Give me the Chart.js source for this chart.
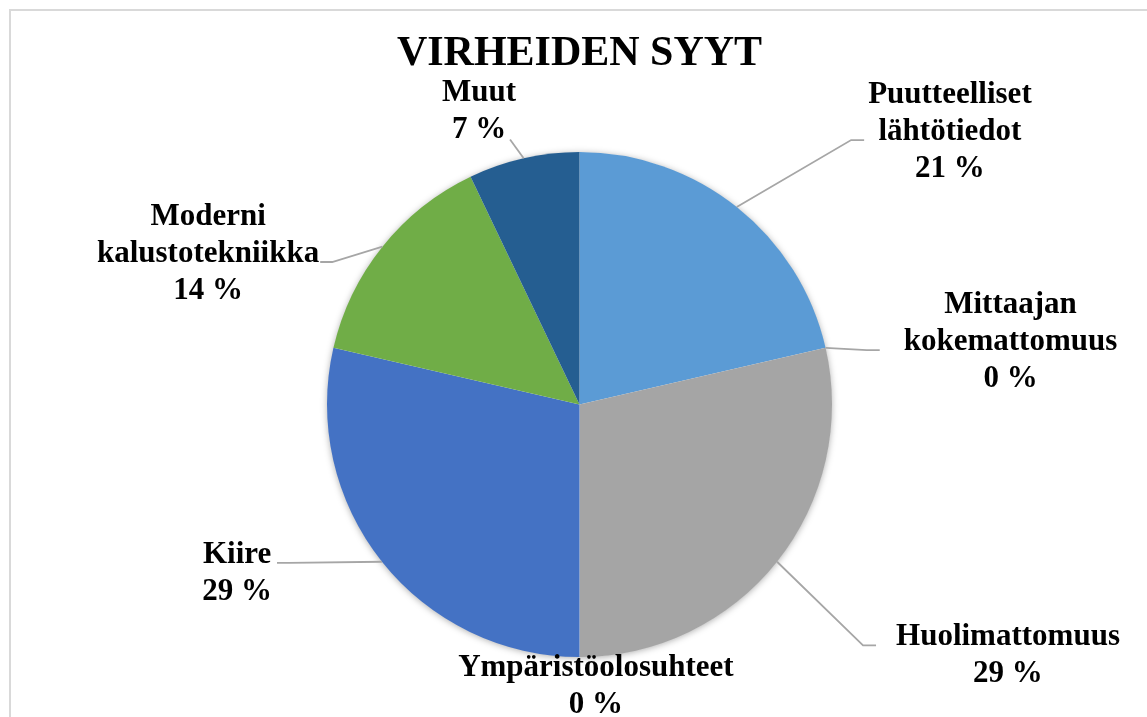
<!DOCTYPE html>
<html>
<head>
<meta charset="utf-8">
<script src="https://cdn.jsdelivr.net/npm/chart.js@4"></script>
<style>
  html, body { margin: 0; padding: 0; background: #fff; overflow: hidden; }
  #wrap { position: relative; width: 1147px; height: 717px; }
  #frame { position: absolute; left: 9px; top: 9px; width: 1200px; height: 800px; border: 2px solid #d9d9d9; }
  canvas { position: absolute; left: 0; top: 0; }
</style>
</head>
<body>
<div id="wrap">
  <div id="frame"></div>
  <canvas id="pieChart" width="1147" height="717"></canvas>
</div>
<script>
const categories = ['Puutteelliset lähtötiedot', 'Mittaajan kokemattomuus', 'Huolimattomuus',
    'Ympäristöolosuhteet', 'Kiire', 'Moderni kalustotekniikka', 'Muut'];
const shares = [21.4, 0, 28.6, 0, 28.6, 14.3, 7.1];
const sliceColors = ['#5B9BD5', '#ED7D31', '#A5A5A5', '#FFC000', '#4472C4', '#70AD47', '#255E91'];

// label block centres, in pie radii from the pie centre; side = where the leader line attaches
const labelLayout = [
    { dx: 1.467, dy: -1.087, side: 'left', gap: 4 },
    { dx: 1.707, dy: -0.255, side: 'left', gap: 24 },
    { dx: 1.697, dy: 0.988, side: 'left', gap: 20 },
    { dx: 0.065, dy: 1.109, side: 'none', gap: 0 },
    { dx: -1.356, dy: 0.661, side: 'right', gap: 5 },
    { dx: -1.471, dy: -0.604, side: 'right', gap: 1 },
    { dx: -0.398, dy: -1.170, side: 'bottom', gap: 2 }
];

const labelFont = 'bold 31px "Liberation Serif", "Times New Roman", serif';
const lineH = 37;

const pieLabels = {
    id: 'pieLabels',
    beforeDatasetsDraw(chart) {
        let arc = chart.getDatasetMeta(0).data[0];
        if (!arc) return;
        let p = arc.getProps(['x', 'y', 'outerRadius'], true);
        let ctx = chart.ctx;
        ctx.save();
        ctx.shadowColor = 'rgba(0,0,0,0.35)';
        ctx.shadowBlur = 7;
        ctx.shadowOffsetY = 1;
        ctx.fillStyle = '#ffffff';
        ctx.beginPath();
        ctx.arc(p.x, p.y, p.outerRadius - 0.5, 0, Math.PI * 2);
        ctx.fill();
        ctx.restore();
    },
    afterDatasetsDraw(chart) {
        let ctx = chart.ctx;
        let meta = chart.getDatasetMeta(0);
        let total = shares.reduce((a, b) => a + b, 0);
        meta.data.forEach((arc, i) => {
            let p = arc.getProps(['x', 'y', 'startAngle', 'endAngle', 'outerRadius'], true);
            let mid = (p.startAngle + p.endAngle) / 2;
            let ax = p.x + Math.cos(mid) * p.outerRadius;
            let ay = p.y + Math.sin(mid) * p.outerRadius;
            let L = labelLayout[i];
            let cx = p.x + L.dx * p.outerRadius;
            let cy = p.y + L.dy * p.outerRadius;
            let lines = categories[i].split(' ').concat([Math.round(shares[i] / total * 100) + ' %']);

            ctx.save();
            ctx.font = labelFont;
            let w = Math.max(...lines.map(s => ctx.measureText(s).width));
            let n = lines.length;
            let base0 = cy + 10 - (n - 1) / 2 * lineH;
            let attachY = base0 + Math.floor((n - 1) / 2) * lineH;

            // leader line
            ctx.strokeStyle = '#a6a6a6';
            ctx.lineWidth = 1.8;
            if (L.side === 'left' || L.side === 'right') {
                let ex = L.side === 'left' ? cx - w / 2 - L.gap : cx + w / 2 + L.gap;
                let kx = L.side === 'left' ? ex - 13 : ex + 12;
                ctx.beginPath();
                ctx.moveTo(ax, ay);
                ctx.lineTo(kx, attachY);
                ctx.lineTo(ex, attachY);
                ctx.stroke();
            } else if (L.side === 'bottom') {
                let bottom = base0 + (n - 1) * lineH + L.gap;
                let ex = Math.min(Math.max(ax, cx - w / 2), cx + w / 2) - 6;
                ctx.beginPath();
                ctx.moveTo(ax, ay);
                ctx.lineTo(ex, bottom);
                ctx.stroke();
            }

            ctx.fillStyle = '#000000';
            ctx.textAlign = 'center';
            ctx.textBaseline = 'alphabetic';
            lines.forEach((s, k) => ctx.fillText(s, cx, base0 + k * lineH));
            ctx.restore();
        });
    }
};

let ctx = document.getElementById('pieChart').getContext('2d');
new Chart(ctx, {
    type: 'pie',
    data: {
        labels: categories,
        datasets: [{
            data: shares,
            backgroundColor: sliceColors,
            borderWidth: 0,
            hoverBorderWidth: 0,
            hoverOffset: 0
        }]
    },
    options: {
        responsive: false,
        animation: false,
        layout: { padding: { left: 327, right: 315, top: 0, bottom: 60 } },
        plugins: {
            legend: { display: false },
            tooltip: { enabled: false },
            title: {
                display: true,
                text: 'VIRHEIDEN SYYT',
                color: '#000000',
                font: { family: '"Liberation Serif", "Times New Roman", serif', size: 42, weight: 'bold', lineHeight: 1.2 },
                padding: { top: 28.6, bottom: 73 }
            }
        }
    },
    plugins: [pieLabels]
});
</script>
</body>
</html>
